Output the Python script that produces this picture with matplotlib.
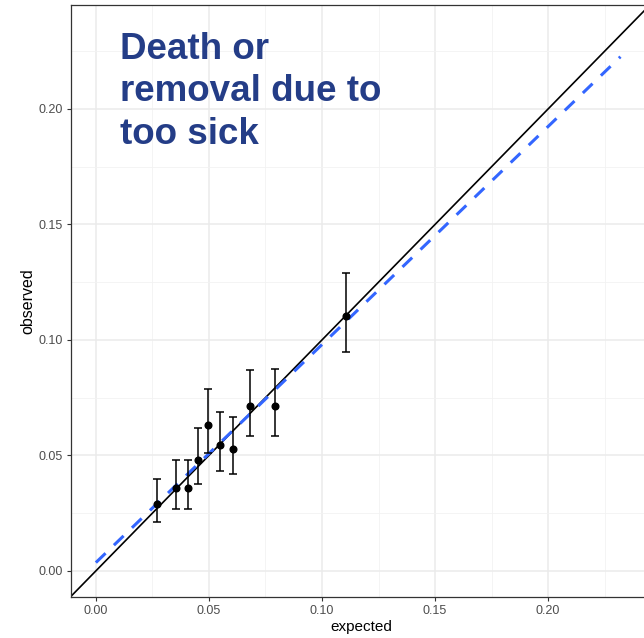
import matplotlib.pyplot as plt
import numpy as np

plt.rcParams['font.family'] = ['Liberation Sans', 'DejaVu Sans']

# calibration groups: expected vs observed with 95% intervals
expected = [0.0271, 0.0354, 0.0407, 0.0453, 0.0497, 0.0549, 0.0606, 0.0680, 0.0792, 0.1105]
observed = [0.0290, 0.0359, 0.0359, 0.0482, 0.0633, 0.0547, 0.0527, 0.0713, 0.0714, 0.1105]
lower = [0.0213, 0.0270, 0.0270, 0.0378, 0.0510, 0.0434, 0.0419, 0.0584, 0.0586, 0.0948]
upper = [0.0398, 0.0479, 0.0482, 0.0619, 0.0787, 0.0688, 0.0667, 0.0870, 0.0873, 0.1290]

# fitted calibration line
fit_intercept = 0.0036
fit_slope = 0.944
fit_range = [0.0, 0.232]

tick_vals = [0.00, 0.05, 0.10, 0.15, 0.20]
minor_vals = [0.025, 0.075, 0.125, 0.175, 0.225]

fig = plt.figure(figsize=(6.44, 6.38), dpi=100)
ax = fig.add_axes([71 / 644, 41 / 638, 580 / 644, 592 / 638])

xlim = (-0.011, 0.2455)
ylim = (-0.0113, 0.245)
ax.set_xlim(*xlim)
ax.set_ylim(*ylim)

# grid like theme_bw
ax.set_xticks(tick_vals)
ax.set_yticks(tick_vals)
ax.set_xticks(minor_vals, minor=True)
ax.set_yticks(minor_vals, minor=True)
ax.grid(True, which='major', color='#ebebeb', linewidth=1.1)
ax.grid(True, which='minor', color='#f2f2f2', linewidth=0.6)
ax.set_axisbelow(True)
ax.tick_params(which='minor', length=0)
ax.tick_params(which='major', length=3, width=0.8, color='#333333',
               labelsize=9, labelcolor='#4d4d4d', pad=3)
ax.set_xticklabels(['%.2f' % v for v in tick_vals])
ax.set_yticklabels(['%.2f' % v for v in tick_vals])
for s in ax.spines.values():
    s.set_color('#333333')
    s.set_linewidth(0.9)

# perfect calibration line
ax.plot(xlim, xlim, color='black', linewidth=1.2, zorder=2)

# fitted line
fx = np.array(fit_range)
ax.plot(fx, fit_intercept + fit_slope * fx, color='#3366FF', linewidth=2.2,
        linestyle=(0, (4.4, 3.8)), zorder=3)

yerr = [np.array(observed) - np.array(lower), np.array(upper) - np.array(observed)]
ax.errorbar(expected, observed, yerr=yerr, fmt='o', color='black', markersize=4.8,
            elinewidth=1.1, capsize=3.2, capthick=1.1, zorder=4)

ax.set_xlabel('expected', fontsize=11, labelpad=2)
ax.set_ylabel('observed', fontsize=11.5, labelpad=2)

ax.text(0.0105, 0.2335, 'Death or\nremoval due to\ntoo sick', fontsize=26.5, fontweight='bold',
        color='#243d87', va='top', ha='left', linespacing=1.29)

fig.savefig('out.png', dpi=100)
